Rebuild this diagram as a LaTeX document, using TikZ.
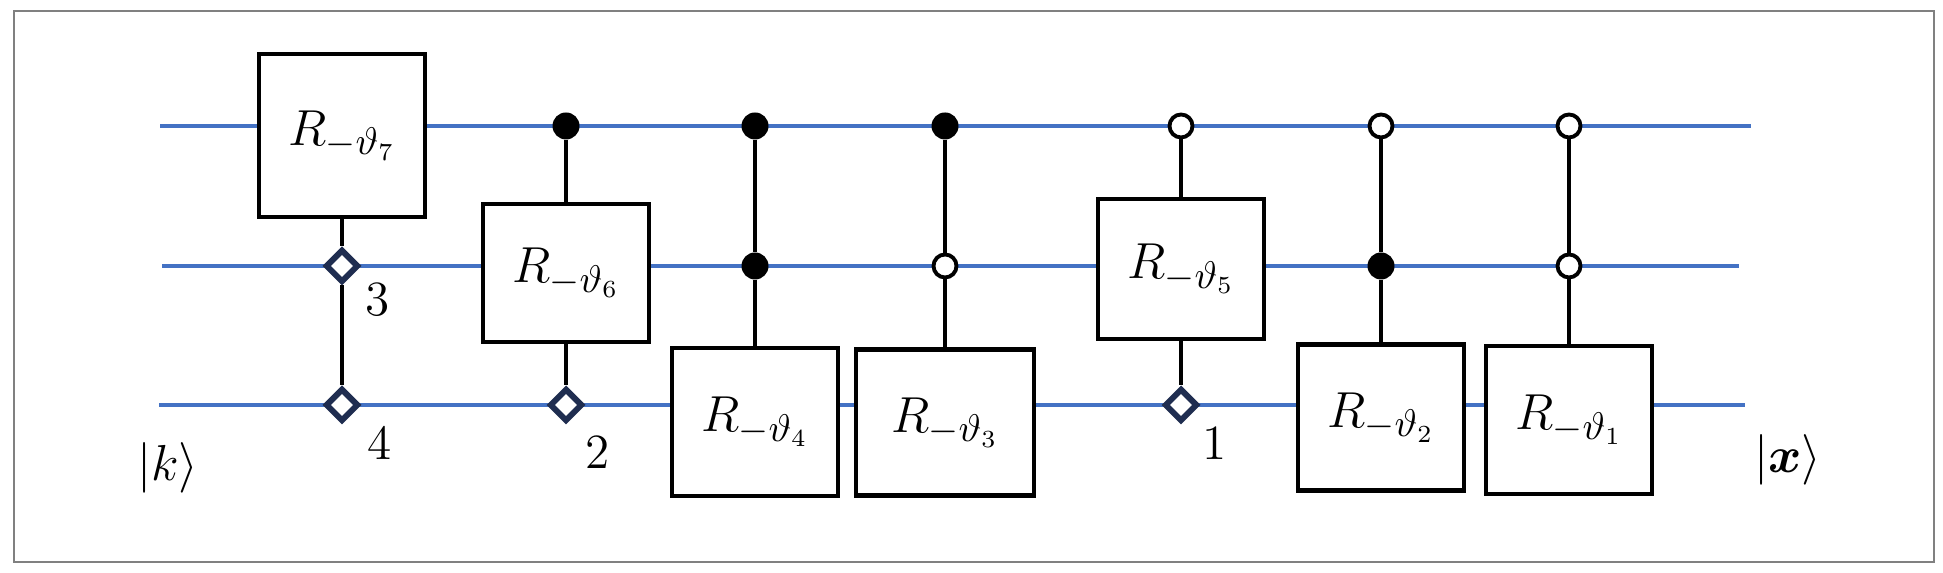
\documentclass[tikz,border=0pt]{standalone}
\usepackage{amsmath}
\usepackage{bm}
\usepackage{tikz}
\usetikzlibrary{shapes.geometric}
\definecolor{wireblue}{HTML}{4472C4}
\definecolor{navy}{HTML}{1F2D50}
\definecolor{framegray}{HTML}{808080}
\tikzstyle{wire} = [wireblue, line width=1pt]
\tikzstyle{gate} = [draw, fill=white, line width=1.15pt, minimum width=1.66cm, minimum height=1.46cm, font=\fontsize{15}{18}\selectfont]
\tikzstyle{ctrl} = [line width=1.1pt]
\tikzstyle{ctrlfull} = [circle, fill=black, inner sep=0pt, minimum size=0.27cm]
\tikzstyle{ctrlopen} = [circle, draw, fill=white, line width=1.1pt, inner sep=0pt, minimum size=0.23cm]
\tikzstyle{dmd} = [diamond, draw=navy, fill=white, line width=1.7pt, inner sep=0pt, minimum size=0.33cm]
\tikzset{lbl/.style={font=\fontsize{14}{17}\selectfont}}

\begin{document}
\begin{tikzpicture}
\useasboundingbox (0,0) rectangle (19.43,5.73);
%frame
\draw[framegray, line width=0.45pt] (0.14,0.11) rectangle (19.34,5.62);
%wires
\coordinate (a1) at (1.60,4.47);
\coordinate (b1) at (17.51,4.47);
\coordinate (a2) at (1.62,3.07);
\coordinate (b2) at (17.39,3.07);
\coordinate (a3) at (1.59,1.68);
\coordinate (b3) at (17.45,1.68);
\draw[wire] (a1) -- (b1);
\draw[wire] (a2) -- (b2);
\draw[wire] (a3) -- (b3);
%gates
\node[gate, minimum height=1.63cm] (g7) at (3.42,4.375) {$R_{-\vartheta_7}$};
\node[gate, minimum height=1.38cm] (g6) at (5.66,3.00) {$R_{-\vartheta_6}$};
\node[gate, minimum height=1.48cm] (g4) at (7.55,1.51) {$R_{-\vartheta_4}$};
\node[gate, minimum width=1.78cm] (g3) at (9.45,1.505) {$R_{-\vartheta_3}$};
\node[gate, minimum height=1.40cm] (g5) at (11.81,3.04) {$R_{-\vartheta_5}$};
\node[gate] (g2) at (13.81,1.555) {$R_{-\vartheta_2}$};
\node[gate, minimum height=1.48cm] (g1) at (15.69,1.53) {$R_{-\vartheta_1}$};
%controls
\node[dmd] (d3) at (3.42,3.07) {};
\node[dmd] (d4) at (3.42,1.68) {};
\node[ctrlfull] (c6) at (5.66,4.47) {};
\node[dmd] (d2) at (5.66,1.68) {};
\node[ctrlfull] (c4a) at (7.55,4.47) {};
\node[ctrlfull] (c4b) at (7.55,3.07) {};
\node[ctrlfull] (c3a) at (9.45,4.47) {};
\node[ctrlopen] (c3b) at (9.45,3.07) {};
\node[ctrlopen] (c5) at (11.81,4.47) {};
\node[dmd] (d1) at (11.81,1.68) {};
\node[ctrlopen] (c2a) at (13.81,4.47) {};
\node[ctrlfull] (c2b) at (13.81,3.07) {};
\node[ctrlopen] (c1a) at (15.69,4.47) {};
\node[ctrlopen] (c1b) at (15.69,3.07) {};
\draw[ctrl] (g7) -- (d3);
\draw[ctrl] (d3) -- (d4);
\draw[ctrl] (c6) -- (g6);
\draw[ctrl] (g6) -- (d2);
\draw[ctrl] (c4a) -- (c4b);
\draw[ctrl] (c4b) -- (g4);
\draw[ctrl] (c3a) -- (c3b);
\draw[ctrl] (c3b) -- (g3);
\draw[ctrl] (c5) -- (g5);
\draw[ctrl] (g5) -- (d1);
\draw[ctrl] (c2a) -- (c2b);
\draw[ctrl] (c2b) -- (g2);
\draw[ctrl] (c1a) -- (c1b);
\draw[ctrl] (c1b) -- (g1);
%labels
\node[lbl] (n3) at (3.78,2.73) {3};
\node[lbl] (n4) at (3.80,1.30) {4};
\node[lbl] (n2) at (5.98,1.21) {2};
\node[lbl] (n1) at (12.15,1.30) {1};
\node[lbl] (kin) at (1.68,1.05) {$|k\rangle$};
\node[lbl] (xout) at (17.88,1.13) {$|\bm{x}\rangle$};
\end{tikzpicture}
\end{document}
